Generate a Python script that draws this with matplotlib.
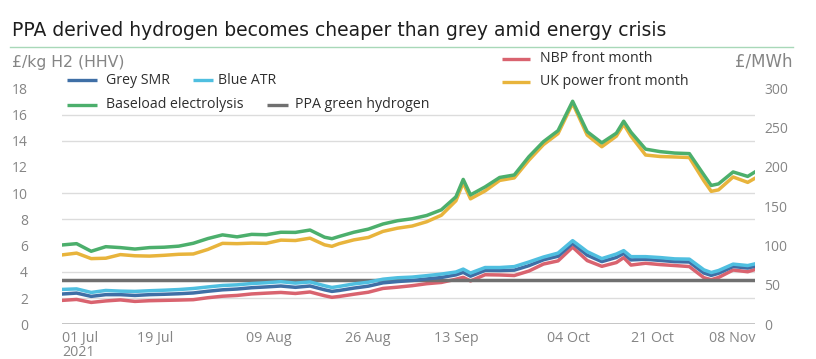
import matplotlib
matplotlib.use("Agg")
import matplotlib.pyplot as plt
from matplotlib.lines import Line2D

# ---------------- data ----------------
# trading-day index (0 = 01 Jul 2021)
days = [0, 2, 4, 6, 8, 10, 12, 14, 16, 18, 20, 22, 24, 26, 28, 30, 32, 34, 36, 37,
        38, 40, 42, 44, 46, 48, 50, 52, 54, 55, 56, 58, 60, 62, 64, 66, 68, 70, 72, 74,
        76, 77, 78, 80, 82, 84, 86, 88, 89, 90, 92, 94, 95]

# £/kg H2 (HHV)  - left axis
baseload_electrolysis = [6.05, 6.15, 5.57, 5.92, 5.85, 5.74, 5.85, 5.88, 5.96, 6.18,
                         6.54, 6.82, 6.67, 6.86, 6.83, 7.02, 7.01, 7.19, 6.64, 6.53,
                         6.70, 7.02, 7.26, 7.65, 7.90, 8.05, 8.30, 8.73, 9.72, 11.05,
                         9.87, 10.48, 11.20, 11.39, 12.78, 13.93, 14.77, 17.01, 14.69, 13.84,
                         14.58, 15.49, 14.65, 13.36, 13.17, 13.06, 13.02, 11.39, 10.59, 10.71,
                         11.62, 11.28, 11.62]
blue_atr = [2.66, 2.70, 2.43, 2.58, 2.53, 2.51, 2.56, 2.60, 2.65, 2.73,
            2.85, 2.96, 3.01, 3.11, 3.17, 3.25, 3.14, 3.23, 2.94, 2.81,
            2.89, 3.08, 3.21, 3.44, 3.55, 3.60, 3.71, 3.83, 3.99, 4.21,
            3.91, 4.33, 4.33, 4.40, 4.75, 5.13, 5.43, 6.38, 5.54, 5.01,
            5.36, 5.62, 5.16, 5.16, 5.09, 4.99, 4.97, 4.15, 3.95, 4.10,
            4.59, 4.48, 4.61]
grey_smr = [2.31, 2.38, 2.13, 2.26, 2.26, 2.20, 2.26, 2.29, 2.33, 2.39,
            2.52, 2.63, 2.69, 2.79, 2.85, 2.92, 2.82, 2.92, 2.63, 2.51,
            2.58, 2.76, 2.91, 3.16, 3.26, 3.34, 3.46, 3.57, 3.77, 3.96,
            3.67, 4.11, 4.10, 4.13, 4.47, 4.92, 5.19, 6.18, 5.27, 4.78,
            5.10, 5.41, 4.91, 4.96, 4.87, 4.78, 4.75, 3.91, 3.73, 3.89,
            4.41, 4.29, 4.43]
ppa_days = [0, 95]
ppa_green_hydrogen = [3.4, 3.4]

# £/MWh - right axis
nbp_front_month = [30.4, 31.6, 27.8, 29.7, 31.0, 29.1, 30.0, 30.4, 30.8, 31.3,
                   33.8, 35.7, 36.7, 38.6, 39.6, 40.5, 39.2, 41.1, 36.3, 34.3,
                   35.4, 38.2, 40.8, 45.6, 47.2, 49.1, 51.6, 53.2, 57.3, 59.7,
                   55.1, 63.0, 62.7, 62.0, 67.7, 76.6, 80.6, 98.1, 81.0, 73.7,
                   78.5, 84.8, 75.3, 77.6, 75.9, 74.7, 73.4, 59.2, 56.7, 59.5,
                   69.0, 66.8, 69.6]
uk_power_front_month = [88.2, 90.5, 83.5, 84.0, 88.6, 87.1, 86.7, 87.7, 89.0, 89.4,
                        95.2, 102.9, 102.5, 103.2, 102.9, 107.0, 106.5, 109.5, 101.0, 99.1,
                        102.5, 107.3, 110.4, 118.1, 122.2, 124.9, 130.4, 138.6, 157.0, 180.0,
                        159.5, 169.6, 182.9, 186.1, 208.6, 228.4, 242.4, 281.0, 240.5, 225.7,
                        239.2, 254.4, 239.2, 215.2, 213.3, 212.7, 212.0, 182.3, 169.0, 170.9,
                        187.3, 180.4, 185.7]

x_tick_pos = [0, 12.8, 28.4, 41.9, 54.0, 69.4, 80.9, 91.9]
x_tick_labels = ["01 Jul\n2021", "19 Jul", "09 Aug", "26 Aug", "13 Sep", "04 Oct", "21 Oct", "08 Nov"]
left_ticks = [0, 2, 4, 6, 8, 10, 12, 14, 16, 18]
right_ticks = [0, 50, 100, 150, 200, 250, 300]

title = "PPA derived hydrogen becomes cheaper than grey amid energy crisis"

# ---------------- style ----------------
plt.rcParams['font.family'] = ['Open Sans', 'DejaVu Sans']

C_GREY_SMR = '#3f6fa6'
C_BLUE_ATR = '#4fbfe0'
C_BASELOAD = '#4caf6c'
C_PPA = '#707070'
C_NBP = '#d9636f'
C_UKP = '#e8b43c'
C_TICK = '#858585'
C_TEXT = '#2e2e2e'

W, H = 816, 359
fig = plt.figure(figsize=(W / 100, H / 100), dpi=100)


def fx(x):
    return x / W


def fy(y):
    return 1 - y / H


ax = fig.add_axes([fx(62), fy(324.3), fx(755) - fx(62), fy(88.3) - fy(324.3)])
ax2 = ax.twinx()
ax.set_zorder(2)
ax2.set_zorder(1)
ax.patch.set_visible(False)

ax.set_xlim(0, 95)
ax.set_ylim(0, 18)
ax2.set_ylim(0, 300)

# gridlines (on lower axes so lines sit above them)
ax2.set_yticks([v * 300 / 18 for v in left_ticks], minor=True)
ax2.grid(which='minor', axis='y', color='#dcdcdc', lw=1.0)
ax2.grid(which='major', visible=False)
ax2.tick_params(which='minor', length=0)
ax.axhline(0, color='#b4b4b4', lw=1.8, zorder=1)

# right-axis series
ax2.plot(days, nbp_front_month, color=C_NBP, lw=2.5, solid_joinstyle='round')
ax2.plot(days, uk_power_front_month, color=C_UKP, lw=2.5, solid_joinstyle='round')

# left-axis series
ax.plot(ppa_days, ppa_green_hydrogen, color=C_PPA, lw=2.5)
ax.plot(days, grey_smr, color=C_GREY_SMR, lw=2.5, solid_joinstyle='round')
ax.plot(days, blue_atr, color=C_BLUE_ATR, lw=2.5, solid_joinstyle='round')
ax.plot(days, baseload_electrolysis, color=C_BASELOAD, lw=2.5, solid_joinstyle='round')

for a in (ax, ax2):
    for s in a.spines.values():
        s.set_visible(False)

ax.set_yticks(left_ticks)
ax.tick_params(axis='y', length=0, pad=24.5, labelsize=10, labelcolor=C_TICK)
ax2.set_yticks(right_ticks)
ax2.tick_params(axis='y', which='major', length=0, pad=6.5, labelsize=10, labelcolor=C_TICK)

ax.set_xticks(x_tick_pos)
ax.set_xticklabels(x_tick_labels)
ax.tick_params(axis='x', length=0, pad=4.5, labelsize=10.3, labelcolor=C_TICK)
for lab in ax.get_xticklabels():
    lab.set_linespacing(0.95)
    lab.set_verticalalignment('top')
ax.get_xticklabels()[0].set_horizontalalignment('left')

# title & units
fig.text(fx(12), fy(31), title, fontsize=13.5, color='#1e1e1e', va='center', ha='left',
         family=['DejaVu Sans'])
fig.add_artist(Line2D([fx(10), fx(793)], [fy(46.5), fy(46.5)], color='#a8d8b8', lw=1.0))
fig.text(fx(12), fy(62), "£/kg H2 (HHV)", fontsize=11.3, color=C_TICK, va='center', ha='left',
         family=['DejaVu Sans'])
fig.text(fx(793), fy(61), "£/MWh", fontsize=12, color=C_TICK, va='center', ha='right',
         family=['DejaVu Sans'])


def legend_item(x0, x1, y, color, label, tx):
    fig.add_artist(Line2D([fx(x0), fx(x1)], [fy(y), fy(y)], color=color, lw=2.4,
                          solid_capstyle='butt'))
    fig.text(fx(tx), fy(y), label, fontsize=10.2, color=C_TEXT, va='center', ha='left')


legend_item(67, 97, 80, C_GREY_SMR, "Grey SMR", 106)
legend_item(193, 213, 80, C_BLUE_ATR, "Blue ATR", 218)
legend_item(67, 97, 105, C_BASELOAD, "Baseload electrolysis", 106)
legend_item(267, 288, 105, C_PPA, "PPA green hydrogen", 295)
legend_item(502, 530, 59, C_NBP, "NBP front month", 540)
legend_item(502, 530, 81.7, C_UKP, "UK power front month", 540)

fig.savefig("out.png", dpi=100, facecolor='white')
